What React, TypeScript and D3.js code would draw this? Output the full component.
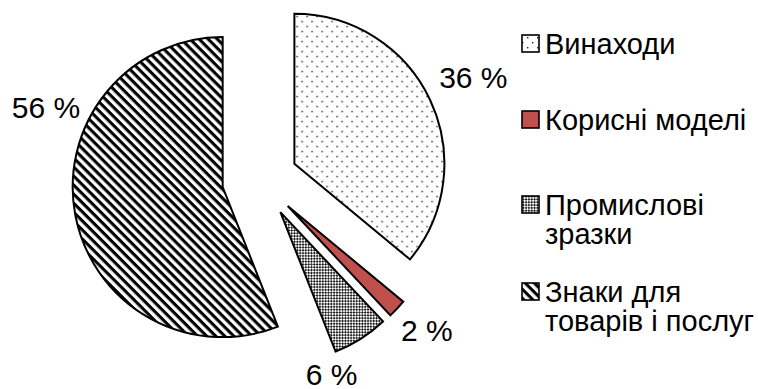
import React, { useEffect, useRef } from "react";
import * as d3 from "d3";

// Shares of industrial property objects, per cent
const categories = ["Винаходи", "Корисні моделі", "Промислові зразки", "Знаки для товарів і послуг"];
const shares = [36, 2, 6, 56];
const valueLabels = ["36 %", "2 %", "6 %", "56 %"];
const legendLines = [["Винаходи"], ["Корисні моделі"], ["Промислові", "зразки"], ["Знаки для", "товарів і послуг"]];

// Layout
const W = 758;
const H = 389;
const CX = 260;
const CY = 180;
const R = 150;
const EXPLODE = 38;
const FONT = "'Liberation Sans', Arial, sans-serif";
const LABEL_SIZE = 30;
const LEGEND_SIZE = 29;
const fills = ["url(#pDots)", "#C0504D", "url(#pChecker)", "url(#pStripes)"];
// label placement relative to each exploded slice's apex: angle (deg, clockwise from 12 o'clock) and distance
const labelAngle = [64.3, 131.7, 162.5, 294.4];
const labelDist = [198.6, 186.5, 170, 194];
// legend
const LEG_MARK_X = 522;
const LEG_TEXT_X = 545;
const LEG_MARK = 17;
const legendBaselines = [54, 130, 215, 302];
const LINE_H = 28.5;

export default function App() {
  const ref = useRef<SVGSVGElement | null>(null);

  useEffect(() => {
    const svg = d3.select(ref.current);
    svg.selectAll("*").remove();

    const defs = svg.append("defs");
    const dots = defs.append("pattern").attr("id", "pDots").attr("patternUnits", "userSpaceOnUse")
      .attr("width", 10).attr("height", 10);
    dots.append("rect").attr("width", 10).attr("height", 10).attr("fill", "#fff");
    dots.append("rect").attr("x", 2).attr("y", 2).attr("width", 1.4).attr("height", 1.4).attr("fill", "#222");
    dots.append("rect").attr("x", 7).attr("y", 7).attr("width", 1.4).attr("height", 1.4).attr("fill", "#222");

    const checker = defs.append("pattern").attr("id", "pChecker").attr("patternUnits", "userSpaceOnUse")
      .attr("width", 4).attr("height", 4).attr("patternTransform", "rotate(45)");
    checker.append("rect").attr("width", 4).attr("height", 4).attr("fill", "#fff");
    checker.append("rect").attr("width", 2).attr("height", 2).attr("fill", "#222");
    checker.append("rect").attr("x", 2).attr("y", 2).attr("width", 2).attr("height", 2).attr("fill", "#222");

    const stripes = defs.append("pattern").attr("id", "pStripes").attr("patternUnits", "userSpaceOnUse")
      .attr("width", 6.4).attr("height", 6.4).attr("patternTransform", "rotate(45)");
    stripes.append("rect").attr("width", 6.4).attr("height", 6.4).attr("fill", "#fff");
    stripes.append("rect").attr("width", 6.4).attr("height", 3.1).attr("fill", "#000");

    const pie = d3.pie<number>().sort(null).value((d) => d).startAngle(0).endAngle(2 * Math.PI);
    const arcs = pie(shares);
    const arc = d3.arc<d3.PieArcDatum<number>>().innerRadius(0).outerRadius(R);

    const apex = (a: d3.PieArcDatum<number>) => {
      const mid = (a.startAngle + a.endAngle) / 2;
      return [CX + EXPLODE * Math.sin(mid), CY - EXPLODE * Math.cos(mid)];
    };

    const g = svg.append("g");
    g.selectAll("path.slice")
      .data(arcs)
      .join("path")
      .attr("class", "slice")
      .attr("transform", (d) => {
        const [x, y] = apex(d);
        return `translate(${x},${y})`;
      })
      .attr("d", arc)
      .attr("fill", (_, i) => fills[i])
      .attr("stroke", "#000")
      .attr("stroke-width", 2)
      .attr("stroke-linejoin", "miter");

    // value labels with white boxes behind them
    const lg = svg.append("g");
    arcs.forEach((a, i) => {
      const [ax, ay] = apex(a);
      const t = (labelAngle[i] * Math.PI) / 180;
      const x = ax + labelDist[i] * Math.sin(t);
      const y = ay - labelDist[i] * Math.cos(t);
      const box = lg.append("rect").attr("fill", "#fff");
      const txt = lg.append("text")
        .attr("x", x).attr("y", y).attr("dy", "0.36em")
        .attr("text-anchor", "middle")
        .attr("font-family", FONT).attr("font-size", LABEL_SIZE).attr("fill", "#000")
        .text(valueLabels[i]);
      const bb = (txt.node() as SVGTextElement).getBBox();
      box.attr("x", bb.x - 3).attr("y", bb.y - 4).attr("width", bb.width + 6).attr("height", bb.height + 8);
    });

    // legend
    const leg = svg.append("g");
    categories.forEach((c, i) => {
      const b = legendBaselines[i];
      leg.append("rect")
        .attr("x", LEG_MARK_X).attr("y", b - 19)
        .attr("width", LEG_MARK).attr("height", LEG_MARK)
        .attr("fill", fills[i]).attr("stroke", "#000").attr("stroke-width", 1.6);
      const t = leg.append("text")
        .attr("font-family", FONT).attr("font-size", LEGEND_SIZE).attr("fill", "#000")
        .attr("aria-label", c);
      legendLines[i].forEach((line, j) => {
        t.append("tspan").attr("x", LEG_TEXT_X).attr("y", b + j * LINE_H).text(line);
      });
    });
  }, []);

  return (
    <svg
      ref={ref}
      width={W}
      height={H}
      style={{ position: "absolute", left: 0, top: 0, background: "#fff" }}
    />
  );
}
